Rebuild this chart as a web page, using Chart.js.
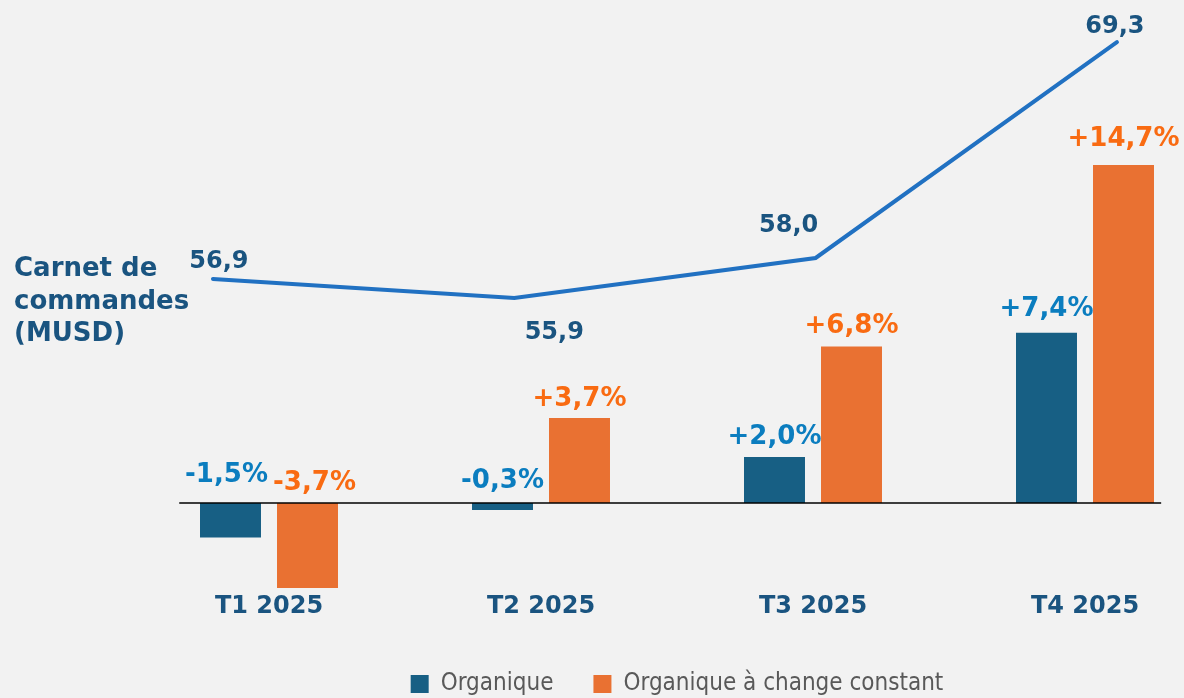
<!DOCTYPE html>
<html>
<head>
<meta charset="utf-8">
<script src="https://cdn.jsdelivr.net/npm/chart.js@4"></script>
<style>
  body { margin: 0; background: #f2f2f2; }
</style>
</head>
<body>
<canvas id="chart" width="1184" height="698"></canvas>
<script>
const quarters = ['T1 2025', 'T2 2025', 'T3 2025', 'T4 2025'];
const organique = [-1.5, -0.3, 2.0, 7.4];
const changeConstant = [-3.7, 3.7, 6.8, 14.7];
const carnet = [56.9, 55.9, 58.0, 69.3];
const carnetTitle = ['Carnet de', 'commandes', '(MUSD)'];

// label nudges (dx, dy) in px
const orgLabelPos = [[-4, -21], [0, -15], [0, -13], [0, -17]];
const constLabelPos = [[7, -13], [0, -12], [0, -14], [0, -19]];
const carnetLabelPos = [[6, -11], [40, 41], [-27, -26], [-2, -9]];

const darkBlue = '#1a5480';
const boldFont = '"DejaVu Sans", sans-serif';

const pct = v => (v > 0 ? '+' : '') + v.toFixed(1).replace('.', ',') + '%';
const num = v => v.toFixed(1).replace('.', ',');

const labelsPlugin = {
  id: 'labels',
  afterDatasetsDraw(chart) {
    const ctx = chart.ctx;
    const x = chart.scales.x, y = chart.scales.y;
    const zeroY = y.getPixelForValue(0);

    // zero line
    ctx.save();
    ctx.strokeStyle = '#000';
    ctx.lineWidth = 1.5;
    ctx.beginPath();
    ctx.moveTo(x.getPixelForValue(-0.33), zeroY);
    ctx.lineTo(x.getPixelForValue(3.28), zeroY);
    ctx.stroke();

    ctx.textAlign = 'center';
    ctx.textBaseline = 'alphabetic';
    ctx.font = 'bold 26px ' + boldFont;

    const barSets = [[1, organique, orgLabelPos, '#0b7dbf'], [2, changeConstant, constLabelPos, '#f96b12']];
    barSets.forEach(([idx, vals, pos, color]) => {
      ctx.fillStyle = color;
      chart.getDatasetMeta(idx).data.forEach((bar, i) => {
        const base = vals[i] >= 0 ? bar.y : zeroY;
        ctx.fillText(pct(vals[i]), bar.x + pos[i][0], base + pos[i][1]);
      });
    });

    ctx.font = 'bold 24px ' + boldFont;
    ctx.fillStyle = darkBlue;
    chart.getDatasetMeta(0).data.forEach((pt, i) => {
      ctx.fillText(num(carnet[i]), pt.x + carnetLabelPos[i][0], pt.y + carnetLabelPos[i][1]);
    });

    // series title on the left
    ctx.textAlign = 'left';
    ctx.font = 'bold 26px ' + boldFont;
    carnetTitle.forEach((t, i) => ctx.fillText(t, 14, 276 + i * 32.5));
    ctx.restore();
  }
};

new Chart(document.getElementById('chart'), {
  type: 'bar',
  data: {
    labels: quarters,
    datasets: [
      {
        type: 'line',
        label: 'Carnet de commandes (MUSD)',
        data: carnet.map((v, i) => ({ x: i, y: v })),
        xAxisID: 'x2',
        yAxisID: 'y2',
        borderColor: '#2171c2',
        borderWidth: 4,
        borderCapStyle: 'round',
        pointRadius: 0,
        tension: 0,
        clip: false
      },
      {
        label: 'Organique',
        data: organique,
        backgroundColor: '#175f84',
        clip: false
      },
      {
        label: 'Organique à change constant',
        data: changeConstant,
        backgroundColor: '#e97132',
        clip: false
      }
    ]
  },
  options: {
    responsive: false,
    animation: false,
    layout: { padding: { left: 269, right: 99, top: 20, bottom: -8 } },
    // the second x axis adds two empty bar slots per category
    barPercentage: 0.792,
    categoryPercentage: 1.1324,
    scales: {
      x: {
        offset: false,
        grid: { display: false },
        border: { display: false },
        ticks: {
          color: darkBlue,
          padding: -4,
          font: { family: boldFont, size: 24, weight: 'bold' }
        },
        afterFit: scale => { scale.height = 44; }
      },
      x2: { type: 'linear', display: false, offset: false, min: 0.186, max: 2.894 },
      y: { display: false, min: -3.696, max: 21.0 },
      y2: { display: false, min: 40.72, max: 70.46 }
    },
    plugins: {
      legend: {
        position: 'bottom',
        labels: {
          filter: item => item.datasetIndex > 0,
          boxWidth: 18,
          boxHeight: 18,
          padding: 40,
          color: '#595959',
          font: { family: '"DejaVu Sans Condensed", "Liberation Sans Narrow", sans-serif', size: 24 }
        }
      },
      tooltip: { enabled: false }
    }
  },
  plugins: [labelsPlugin]
});
</script>
</body>
</html>
